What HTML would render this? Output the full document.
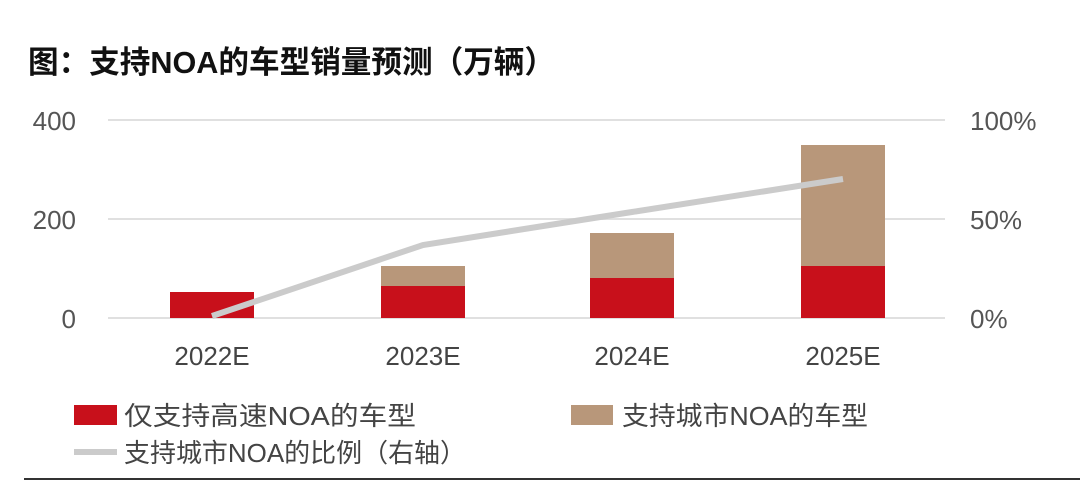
<!DOCTYPE html>
<html><head><meta charset="utf-8"><style>
html,body{margin:0;padding:0;background:#fff;}
svg{display:block;}
text{font-family:"Liberation Sans","Noto Sans CJK SC",sans-serif;}
</style></head><body>
<svg width="1080" height="483" viewBox="0 0 1080 483" xmlns="http://www.w3.org/2000/svg">
<text x="28" y="73" font-size="31" font-weight="bold" fill="#111" textLength="527" lengthAdjust="spacingAndGlyphs">图：支持NOA的车型销量预测（万辆）</text>
<g stroke="#e0e0e0" stroke-width="2">
<line x1="108" y1="120" x2="945" y2="120"/>
<line x1="108" y1="219" x2="945" y2="219"/>
<line x1="108" y1="318" x2="945" y2="318"/>
</g>
<g font-size="26" fill="#555" text-anchor="end">
<text x="76" y="130">400</text>
<text x="76" y="229">200</text>
<text x="76" y="328">0</text>
</g>
<g font-size="26" fill="#555" text-anchor="start">
<text x="970" y="130">100%</text>
<text x="970" y="229">50%</text>
<text x="970" y="328">0%</text>
</g>
<g fill="#c8101b">
<rect x="170" y="292" width="84" height="26"/>
<rect x="381" y="286" width="84" height="32"/>
<rect x="590" y="278" width="84" height="40"/>
<rect x="801" y="266" width="84" height="52"/>
</g>
<g fill="#b8977a">
<rect x="381" y="266" width="84" height="20"/>
<rect x="590" y="233" width="84" height="45"/>
<rect x="801" y="145" width="84" height="121"/>
</g>
<polyline points="212,316 423,245 632,212 843,179" fill="none" stroke="#cbcbcb" stroke-width="6"/>
<g font-size="26" fill="#444" text-anchor="middle">
<text x="212" y="365">2022E</text>
<text x="423" y="365">2023E</text>
<text x="632" y="365">2024E</text>
<text x="843" y="365">2025E</text>
</g>
<rect x="74" y="405" width="43" height="20" fill="#c8101b"/>
<text x="124" y="425" font-size="26" fill="#444" textLength="292" lengthAdjust="spacingAndGlyphs">仅支持高速NOA的车型</text>
<rect x="571" y="405" width="42" height="20" fill="#b8977a"/>
<text x="622" y="425" font-size="26" fill="#444" textLength="246" lengthAdjust="spacingAndGlyphs">支持城市NOA的车型</text>
<line x1="74" y1="452" x2="117" y2="452" stroke="#cbcbcb" stroke-width="6"/>
<text x="124" y="462" font-size="26" fill="#444" textLength="342" lengthAdjust="spacingAndGlyphs">支持城市NOA的比例（右轴）</text>
<line x1="24" y1="479" x2="1080" y2="479" stroke="#333" stroke-width="2"/>
</svg>
</body></html>
